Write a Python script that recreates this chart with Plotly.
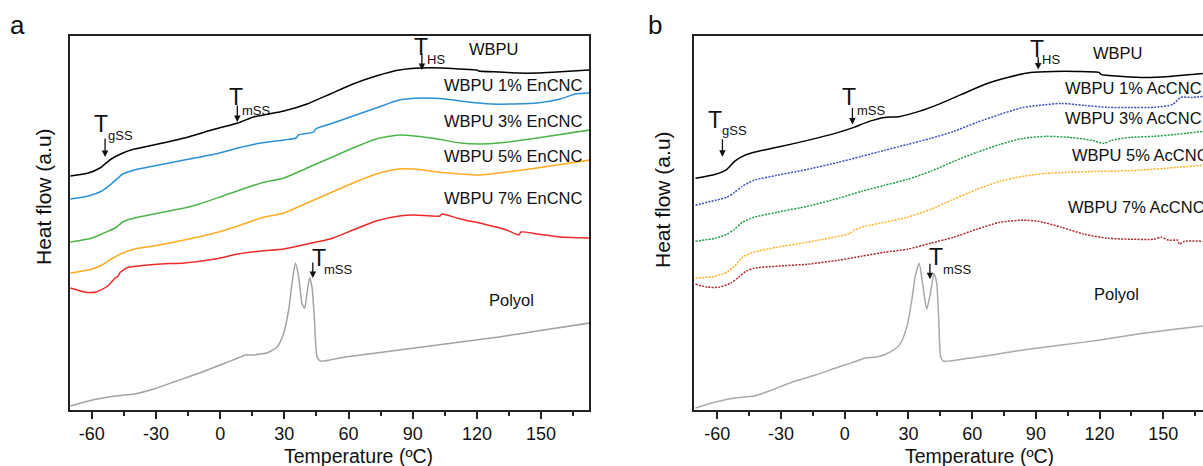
import plotly.graph_objects as go

# ---------------- data (temperature in °C, heat flow in arbitrary units) ----------------
tick_vals = [-60, -30, 0, 30, 60, 90, 120, 150]
tick_text = ["-60", "-30", "0", "30", "60", "90", "120", "150"]
minor_vals = [-45, -15, 15, 45, 75, 105, 135, 165]

# Panel a (EnCNC)
a_t_wbpu = [-70, -61.6, -56.2, -50.9, -45.5, -40.1, -31.1, -16.8, -2.4, 8.3, 15.5, 22.7, 29.8, 40.6, 51.4,
            62.1, 72.9, 83.7, 94.4, 103.4, 112.3, 120.0, 120.8, 130.3, 139.2, 148.2, 157.2, 172.8]
a_h_wbpu = [234, 237, 242, 251, 257, 261, 265, 272, 281, 287, 293, 296, 299, 306, 316,
            326, 334, 340, 342, 342, 341, 340, 339, 338, 337, 337, 338, 340]

a_t_en1 = [-70, -61.6, -55.3, -50.9, -45.5, -40.1, -31.1, -16.8, -2.4, 8.3, 19.1, 29.8, 35.5, 36.5, 43.8, 44.6,
           51.4, 62.1, 72.9, 83.7, 94.4, 105.2, 115.9, 126.7, 137.5, 148.2, 159.0, 166.1, 172.8]
a_h_en1 = [211, 214, 219, 226, 236, 240, 244, 250, 256, 262, 267, 270, 272, 275, 278, 281,
           286, 294, 302, 310, 312, 311, 308, 306, 306, 307, 311, 316, 317]

a_t_en3 = [-70, -59.8, -54.4, -49.1, -45.5, -43.5, -41.9, -31.1, -16.8, -9.6, 1.2, 11.9, 20.9, 29.8, 40.6, 51.4,
           62.1, 72.9, 83.7, 90.8, 101.6, 112.3, 121.3, 130.3, 148.2, 172.8]
a_h_en3 = [168, 172, 177, 182, 188, 190, 191, 196, 202, 206, 214, 222, 228, 232, 242, 252,
           262, 271, 275, 274, 271, 267, 266, 267, 272, 280]

a_t_en5 = [-70, -59.8, -54.4, -50.9, -45.5, -40.1, -31.1, -16.8, -2.4, 8.3, 19.1, 29.8, 40.6, 51.4,
           62.1, 72.9, 83.7, 90.8, 101.6, 112.3, 121.3, 130.3, 148.2, 172.8]
a_h_en5 = [137, 141, 146, 151, 157, 161, 164, 170, 177, 184, 192, 197, 207, 217,
           227, 236, 241, 241, 238, 236, 235, 237, 242, 250]

a_t_en7 = [-70, -63.4, -58.0, -52.6, -49.1, -47.6, -47.0, -43.7, -38.3, -27.5, -16.8, -2.4, 8.3, 19.1, 29.8,
           40.6, 51.4, 62.1, 72.9, 83.7, 90.8, 102.8, 103.6, 112.3, 123.1, 133.9, 139.6, 140.6, 148.2, 159.0, 172.8]
a_h_en7 = [122, 118, 118, 124, 132, 134, 137, 142, 144, 146, 147, 151, 156, 159, 161,
           166, 171, 180, 189, 194, 195, 194, 196, 191, 186, 180, 175, 178, 176, 173, 172]

a_t_poly = [-70, -59.8, -49.1, -40.1, -31.1, -20.4, -9.6, 1.2, 8.3, 11.9, 15.7, 19.1, 21.9, 26.6, 29.7, 32.0,
            33.6, 35.2, 36.7, 38.3, 39.5, 40.6, 41.8, 42.9, 44.0, 45.3, 46.8, 58.5, 76.5, 94.4, 112.3, 130.3,
            148.2, 172.8]
a_h_poly = [4, 10, 14, 16, 21, 29, 37, 46, 52, 55, 55, 56, 57, 63, 77, 100,
            127, 147, 133, 106, 102, 117, 132, 123, 93, 53, 49, 53, 58, 63, 68, 73,
            79, 87]

# Panel b (AcCNC)
b_t_wbpu = [-70.3, -60.9, -55.5, -51.9, -48.2, -42.8, -31.9, -17.5, -3.0, 4.3, 11.5, 18.7, 26.0, 35.0, 44.1,
            55.0, 65.8, 76.7, 87.5, 98.4, 109.3, 119.8, 120.6, 131.0, 141.8, 152.7, 163.6, 168.6]
b_h_wbpu = [232, 236, 241, 249, 254, 258, 263, 270, 278, 283, 289, 293, 294, 299, 306,
            316, 326, 333, 338, 339, 339, 338, 336, 334, 333, 334, 336, 337]

b_t_ac1 = [-70.3, -60.9, -55.5, -51.9, -48.2, -42.8, -31.9, -17.5, -3.0, 7.9, 18.7, 29.6, 40.5, 51.3,
           62.2, 73.1, 83.9, 91.2, 102.0, 112.9, 123.8, 134.6, 145.5, 154.5, 158.1, 163.6, 168.6]
b_h_ac1 = [205, 210, 213, 218, 224, 230, 235, 241, 248, 254, 260, 266, 272, 279,
           288, 296, 303, 305, 307, 305, 303, 303, 303, 306, 313, 313, 314]

b_t_ac3 = [-70.3, -60.9, -55.5, -51.9, -48.2, -42.8, -31.9, -17.5, -3.0, 7.9, 18.7, 29.6, 40.5, 51.3,
           62.2, 73.1, 83.9, 94.8, 105.7, 116.5, 122.0, 125.6, 134.6, 145.5, 156.3, 168.6]
b_h_ac3 = [169, 172, 176, 181, 188, 193, 198, 204, 212, 219, 225, 231, 239, 249,
           258, 266, 272, 274, 273, 270, 267, 270, 273, 274, 276, 279]

b_t_ac5 = [-70.3, -60.9, -55.5, -51.9, -48.2, -42.8, -31.9, -17.5, -3.0, 2.5, 4.3, 7.9, 18.7, 29.6, 40.5,
           51.3, 62.2, 73.1, 83.9, 94.8, 105.7, 120.1, 138.2, 156.3, 168.6]
b_h_ac5 = [132, 134, 138, 144, 153, 158, 163, 168, 174, 177, 180, 183, 188, 193, 201,
           211, 221, 229, 234, 237, 238, 239, 240, 243, 245]

b_t_ac7 = [-70.3, -64.5, -59.1, -53.7, -50.0, -46.4, -42.8, -31.9, -17.5, -3.0, 7.9, 18.7, 29.6, 40.5,
           51.3, 62.2, 73.1, 83.9, 91.2, 102.0, 112.9, 123.8, 134.6, 145.5, 149.1, 152.7, 156.8, 157.6,
           159.9, 168.6]
b_h_ac7 = [126, 123, 123, 127, 133, 139, 142, 144, 146, 150, 154, 158, 161, 167,
           173, 181, 188, 190, 189, 183, 176, 172, 171, 171, 173, 170, 170, 166,
           169, 169]

b_t_poly = [-70.3, -60.9, -51.9, -42.8, -35.6, -24.7, -13.8, -3.0, 4.3, 9.7, 15.1, 21.3, 26.0, 29.2,
            31.5, 33.1, 35.0, 36.7, 38.6, 40.5, 42.0, 43.3, 44.2, 45.2, 46.4, 59.0, 83.9, 102.0,
            120.1, 138.2, 156.3, 168.6]
b_h_poly = [2, 8, 12, 14, 19, 28, 35, 43, 48, 52, 53, 58, 66, 83,
            109, 133, 147, 126, 101, 119, 137, 127, 93, 53, 49, 52, 60, 65,
            70, 76, 81, 84]

# ---------------- figure ----------------
FONT = "Liberation Sans, Arial, Helvetica, sans-serif"
fig = go.Figure()

def add_curve(t, h, color, xa, ya, dash="solid", width=1.5):
    fig.add_trace(go.Scatter(x=t, y=h, mode="lines", xaxis=xa, yaxis=ya,
                             line=dict(color=color, width=width, dash=dash, shape="spline", smoothing=0.6),
                             showlegend=False, hoverinfo="skip"))

add_curve(a_t_poly, a_h_poly, "#a3a3a3", "x", "y")
add_curve(a_t_en7, a_h_en7, "#ee2a2a", "x", "y")
add_curve(a_t_en5, a_h_en5, "#ffab24", "x", "y")
add_curve(a_t_en3, a_h_en3, "#4cb649", "x", "y")
add_curve(a_t_en1, a_h_en1, "#2a91d6", "x", "y")
add_curve(a_t_wbpu, a_h_wbpu, "#000000", "x", "y")

DOT = "2px,1.3px"
add_curve(b_t_poly, b_h_poly, "#aaaaaa", "x2", "y2")
add_curve(b_t_ac7, b_h_ac7, "#b3262a", "x2", "y2", dash=DOT)
add_curve(b_t_ac5, b_h_ac5, "#ffb21f", "x2", "y2", dash=DOT)
add_curve(b_t_ac3, b_h_ac3, "#1f9e44", "x2", "y2", dash=DOT)
add_curve(b_t_ac1, b_h_ac1, "#3d4fc0", "x2", "y2", dash=DOT)
add_curve(b_t_wbpu, b_h_wbpu, "#000000", "x2", "y2")

W, H = 1203, 466
y_dom = [56 / H, 430 / H]

xcommon = dict(tickmode="array", tickvals=tick_vals, ticktext=tick_text,
               ticks="outside", ticklen=7, tickwidth=1.5, tickcolor="#222",
               minor=dict(tickmode="array", tickvals=minor_vals, ticks="outside", ticklen=4,
                          tickwidth=1.5, tickcolor="#222"),
               showline=True, linewidth=1.5, linecolor="#222", mirror=True,
               showgrid=False, zeroline=False,
               tickfont=dict(family=FONT, size=18, color="#111"))
ycommon = dict(showticklabels=False, ticks="", showline=True, linewidth=1.5, linecolor="#222",
               showgrid=False, zeroline=False, domain=y_dom, range=[0, 374])

fig.update_layout(
    width=W, height=H, margin=dict(l=0, r=0, t=0, b=0),
    paper_bgcolor="white", plot_bgcolor="white",
    font=dict(family=FONT, color="#111"),
    xaxis=dict(xcommon, domain=[70 / W, 589 / W], range=[-70.2, 172.4], anchor="y"),
    yaxis=dict(ycommon, mirror=True, anchor="x"),
    xaxis2=dict(xcommon, domain=[694 / W, 1.0], range=[-71.0, 168.7], anchor="y2"),
    yaxis2=dict(ycommon, mirror=False, anchor="x2", range=[0, 374.5]),
)

ann = []

def txt(x, y, s, size, xr, yr, xanchor="center", yanchor="middle", angle=0):
    ann.append(dict(x=x, y=y, xref=xr, yref=yr, text=s, showarrow=False,
                    font=dict(family=FONT, size=size, color="#111"),
                    xanchor=xanchor, yanchor=yanchor, textangle=angle))

def arrow(x, y, ay, xr, yr):
    ann.append(dict(x=x, y=y, xref=xr, yref=yr, text="", showarrow=True, ax=0, ay=ay,
                    arrowhead=2, arrowsize=1.0, arrowwidth=1.3, arrowcolor="#111",
                    standoff=0, startstandoff=0))

# panel letters and axis titles
txt(17 / W, 1 - 25 / H, "a", 26, "paper", "paper")
txt(655 / W, 1 - 25 / H, "b", 26, "paper", "paper")
txt(358 / W, 1 - 456 / H, "Temperature (ºC)", 19.5, "paper", "paper")
txt(979 / W, 1 - 456 / H, "Temperature (ºC)", 19.5, "paper", "paper")
txt(43 / W, 1 - 197 / H, "Heat flow (a.u)", 21, "paper", "paper", angle=-90)
txt(662 / W, 1 - 200 / H, "Heat flow (a.u)", 21, "paper", "paper", angle=-90)

# panel a labels
txt(-55.8, 286, "T", 23, "x", "y")
txt(-46.4, 275, "gSS", 13, "x", "y")
arrow(-53.8, 253, -20, "x", "y")
txt(7.6, 313, "T", 23, "x", "y")
txt(16.9, 300, "mSS", 13, "x", "y")
arrow(8.0, 288, -18, "x", "y")
txt(93.9, 363, "T", 23, "x", "y")
txt(101.0, 351, "HS", 13, "x", "y")
arrow(94.3, 340, -18, "x", "y")
txt(46.2, 152, "T", 23, "x", "y")
txt(55.5, 141, "mSS", 13, "x", "y")
arrow(43.3, 132, -17, "x", "y")
txt(128.1, 361, "WBPU", 16.5, "x", "y")
txt(170.5, 325, "WBPU 1% EnCNC", 16.5, "x", "y", xanchor="right")
txt(170.5, 289, "WBPU 3% EnCNC", 16.5, "x", "y", xanchor="right")
txt(170.5, 254, "WBPU 5% EnCNC", 16.5, "x", "y", xanchor="right")
txt(170.5, 212, "WBPU 7% EnCNC", 16.5, "x", "y", xanchor="right")
txt(136.3, 110, "Polyol", 16.5, "x", "y")

# panel b labels
txt(-61.1, 290, "T", 23, "x2", "y2")
txt(-51.7, 279.5, "gSS", 13, "x2", "y2")
arrow(-57.6, 253.5, -19, "x2", "y2")
txt(2.1, 313, "T", 23, "x2", "y2")
txt(12.7, 300, "mSS", 13, "x2", "y2")
arrow(3.6, 286, -18, "x2", "y2")
txt(90.4, 361, "T", 23, "x2", "y2")
txt(97.0, 351, "HS", 13, "x2", "y2")
arrow(91.1, 341, -14, "x2", "y2")
txt(42.9, 153, "T", 23, "x2", "y2")
txt(52.9, 141, "mSS", 13, "x2", "y2")
arrow(40.1, 131, -17, "x2", "y2")
txt(128.8, 357, "WBPU", 16.5, "x2", "y2")
txt(102.9, 322, "WBPU 1% AcCNC", 16.5, "x2", "y2", xanchor="left")
txt(102.9, 292, "WBPU 3% AcCNC", 16.5, "x2", "y2", xanchor="left")
txt(106.1, 255.5, "WBPU 5% AcCNC", 16.5, "x2", "y2", xanchor="left")
txt(104.2, 203.5, "WBPU 7% AcCNC", 16.5, "x2", "y2", xanchor="left")
txt(128.0, 116, "Polyol", 16.5, "x2", "y2")

fig.update_layout(annotations=ann)
fig.write_html("out.html", config={"displayModeBar": False},
               post_script="document.body.style.margin='0';document.body.style.overflow='hidden';")
